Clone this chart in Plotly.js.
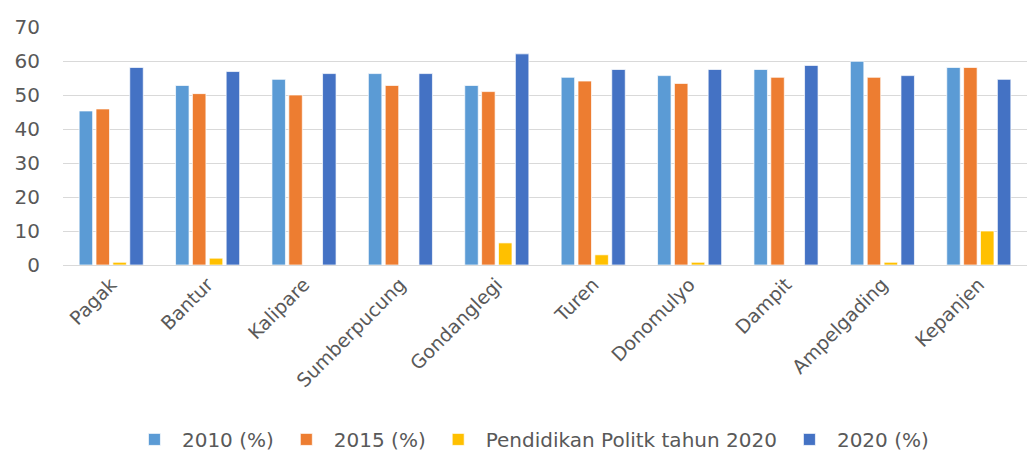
<!DOCTYPE html>
<html>
<head>
<meta charset="utf-8">
<script src="https://cdn.plot.ly/plotly-3.0.1.min.js"></script>
<style>html,body{margin:0;padding:0;background:#fff}#chart{width:1028px;height:453px}</style>
</head>
<body>
<div id="chart"></div>
<script>
const categories = ["Pagak","Bantur","Kalipare","Sumberpucung","Gondanglegi","Turen","Donomulyo","Dampit","Ampelgading","Kepanjen"];
const values2010 = [45.3, 52.8, 54.6, 56.3, 52.8, 55.2, 55.7, 57.5, 59.9, 58.1];
const values2015 = [45.9, 50.4, 50.0, 52.8, 51.0, 54.1, 53.4, 55.2, 55.2, 58.1];
const pendidikan2020 = [0.8, 2.0, 0, 0, 6.5, 3.0, 0.8, 0, 0.8, 10.0];
const values2020 = [58.1, 56.9, 56.3, 56.3, 62.1, 57.5, 57.5, 58.7, 55.7, 54.6];
const seriesNames = ["2010 (%)", "2015 (%)", "Pendidikan Politk tahun 2020", "2020 (%)"];
const yTicks = [0, 10, 20, 30, 40, 50, 60, 70];

const colors = ["#5B9BD5", "#ED7D31", "#FFC000", "#4472C4"];
const allValues = [values2010, values2015, pendidikan2020, values2020];

const traces = allValues.map((v, i) => ({
  type: "bar",
  x: categories,
  y: v,
  name: seriesNames[i],
  marker: { color: colors[i], line: { color: "rgba(255,255,255,0.7)", width: 1 } },
  hoverinfo: "x+y+name"
}));

const font = "'DejaVu Sans', sans-serif";
const layout = {
  width: 1028,
  height: 453,
  margin: { l: 63, r: 1, t: 27, b: 188 },
  paper_bgcolor: "#ffffff",
  plot_bgcolor: "#ffffff",
  barmode: "group",
  bargap: 0.30,
  bargroupgap: 0.2,
  font: { family: font, color: "#595959", size: 20 },
  xaxis: {
    type: "category",
    tickangle: -45,
    tickfont: { family: font, size: 19, color: "#595959" },
    showgrid: false,
    showline: true,
    linecolor: "#D9D9D9",
    linewidth: 1,
    ticks: "",
    automargin: false
  },
  yaxis: {
    range: [0, 70],
    tickvals: yTicks,
    ticktext: yTicks.map(String),
    tickfont: { family: font, size: 20, color: "#595959" },
    showgrid: true,
    gridcolor: "#D9D9D9",
    gridwidth: 1,
    zeroline: false,
    showline: false,
    ticks: "",
    ticklabelstandoff: 22,
    automargin: false
  },
  showlegend: true,
  legend: {
    orientation: "h",
    x: 0.516,
    xanchor: "center",
    xref: "container",
    y: 0.03,
    yref: "container",
    yanchor: "middle",
    font: { family: font, size: 20, color: "#595959" },
    traceorder: "normal",
    itemwidth: 45
  }
};

Plotly.newPlot("chart", traces, layout, { displayModeBar: false, staticPlot: true });
</script>
</body>
</html>
